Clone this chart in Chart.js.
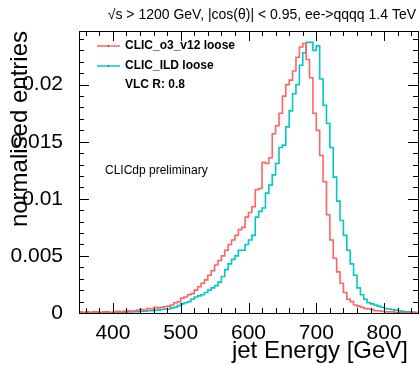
<!DOCTYPE html>
<html>
<head>
<meta charset="utf-8">
<script src="https://cdn.jsdelivr.net/npm/chart.js@4.4.1/dist/chart.umd.min.js"></script>
<style>
  html, body { margin: 0; padding: 0; background: #fff; }
</style>
</head>
<body>
<canvas id="chart-jetE" width="420" height="366"></canvas>
<script>
// ── DATA ──────────────────────────────────────────────────────────────────
// 5 GeV bins from 350 to 850 GeV, normalised entries per bin
const BIN_LOW   = 350;
const BIN_WIDTH = 5;

const o3Entries = [
  0.0001, 0.00005, 0.0001, 0.00005, 0.0001, 0.0001, 0.00005, 0.0001, 0.0001, 0.00005,
  0.0001, 0.00015, 0.0001, 0.00015, 0.0002, 0.00015, 0.0002, 0.00025, 0.0003, 0.00025,
  0.0004, 0.00035, 0.0005, 0.00045, 0.0005, 0.00055, 0.0006, 0.0007, 0.0009, 0.0010,
  0.0013, 0.0014, 0.0016, 0.0017, 0.0020, 0.0023, 0.0026, 0.0029, 0.0033, 0.0037,
  0.0042, 0.0046, 0.0050, 0.0055, 0.0060, 0.0064, 0.0068, 0.0073, 0.0075, 0.0084,
  0.0088, 0.0093, 0.0108, 0.0109, 0.0132, 0.0131, 0.0136, 0.0157, 0.0164, 0.0175,
  0.0190, 0.0200, 0.0204, 0.0212, 0.0224, 0.0233, 0.0236, 0.0222, 0.0206, 0.0175,
  0.0160, 0.0138, 0.0115, 0.0086, 0.0064, 0.0048, 0.0036, 0.0026, 0.0018, 0.0012,
  0.0010, 0.0007, 0.0006, 0.0005, 0.0004, 0.00035, 0.0003, 0.0002, 0.0002, 0.00015,
  0.0001, 0.0001, 0.0001, 0.00005, 0.00005, 0.00005, 0.00005, 0.00005, 0.00003, 0.00003
];

const ildEntries = [
  0.00003, 0, 0.00003, 0.00003, 0, 0.00003, 0.00005, 0.00003, 0.00005, 0.00005,
  0.00005, 0.00005, 0.00008, 0.00008, 0.0001, 0.0001, 0.00012, 0.00012, 0.00015, 0.00015,
  0.0002, 0.0002, 0.00025, 0.00025, 0.0003, 0.00035, 0.00035, 0.00045, 0.0005, 0.00065,
  0.0008, 0.0009, 0.0010, 0.0012, 0.0014, 0.0015, 0.0016, 0.0018, 0.0020, 0.0022,
  0.0024, 0.0027, 0.0032, 0.0038, 0.0043, 0.0047, 0.0050, 0.0055, 0.0055, 0.0060,
  0.0064, 0.0068, 0.0084, 0.0089, 0.0092, 0.0105, 0.0112, 0.0121, 0.0131, 0.0145,
  0.0147, 0.0163, 0.0177, 0.0192, 0.0200, 0.0217, 0.0228, 0.0237, 0.0237, 0.0230,
  0.0234, 0.0205, 0.0182, 0.0166, 0.0145, 0.0119, 0.0098, 0.0081, 0.0068, 0.0055,
  0.0043, 0.0033, 0.0022, 0.0016, 0.0012, 0.0009, 0.0008, 0.0007, 0.0006, 0.0005,
  0.0004, 0.00035, 0.0003, 0.00025, 0.0002, 0.00015, 0.0001, 0.0001, 0.00008, 0.00005
];

const X_TICKS = [400, 500, 600, 700, 800];
const Y_TICKS = [0, 0.005, 0.01, 0.015, 0.02];
const Y_LABELS = ['0', '0.005', '0.01', '0.015', '0.02'];

const SERIES = [
  { name: 'CLIC_o3_v12 loose', values: o3Entries,  color: '#FF6464' },
  { name: 'CLIC_ILD loose',    values: ildEntries, color: '#00C8C8' },
];

const TITLE   = '\u221As > 1200 GeV, |cos(\u03B8)| < 0.95, ee->qqqq 1.4 TeV';
const X_TITLE = 'jet Energy [GeV]';
const Y_TITLE = 'normalised entries';
const FONT    = "'Liberation Sans', Arial, sans-serif";

// histogram -> step points at bin low edges (+ closing edge)
function toSteps(values) {
  const pts = values.map((v, i) => ({ x: BIN_LOW + i * BIN_WIDTH, y: v }));
  pts.push({ x: BIN_LOW + values.length * BIN_WIDTH, y: values[values.length - 1] });
  return pts;
}

// ── ROOT-STYLE FRAME, TICKS AND TEXT ─────────────────────────────────────
const rootFrame = {
  id: 'rootFrame',
  afterDatasetsDraw(chart) {
    const { ctx, chartArea: a, scales: { x, y } } = chart;
    ctx.save();
    ctx.strokeStyle = '#000';
    ctx.lineWidth = 1;
    ctx.strokeRect(Math.round(a.left) + 0.5, Math.round(a.top) + 0.5,
                   Math.round(a.right - a.left), Math.round(a.bottom - a.top));
    ctx.beginPath();
    for (let v = x.min + 10; v < x.max; v += 20) {
      const px = Math.round(x.getPixelForValue(v)) + 0.5;
      const len = (v % 100 === 0) ? 10 : 5;
      ctx.moveTo(px, a.bottom); ctx.lineTo(px, a.bottom - len);
      ctx.moveTo(px, a.top);    ctx.lineTo(px, a.top + len);
    }
    for (let k = 0; k * 0.001 < y.max; k++) {
      const py = Math.round(y.getPixelForValue(k * 0.001)) + 0.5;
      const len = (k % 5 === 0) ? 10 : 5;
      ctx.moveTo(a.left, py);  ctx.lineTo(a.left + len, py);
      ctx.moveTo(a.right, py); ctx.lineTo(a.right - len, py);
    }
    ctx.stroke();
    ctx.restore();
  },
  afterDraw(chart) {
    const { ctx } = chart;
    ctx.save();
    ctx.fillStyle = '#000';

    // title
    ctx.font = '14px ' + FONT;
    ctx.textAlign = 'right';
    ctx.textBaseline = 'alphabetic';
    ctx.fillText(TITLE, 416, 19);

    // axis titles
    ctx.font = '24px ' + FONT;
    ctx.fillText(X_TITLE, 408, 358);
    ctx.save();
    ctx.translate(27, 31);
    ctx.rotate(-Math.PI / 2);
    ctx.textAlign = 'right';
    ctx.fillText(Y_TITLE, 0, 0);
    ctx.restore();

    // legend
    ctx.textAlign = 'left';
    ctx.textBaseline = 'middle';
    ctx.font = 'bold 12px ' + FONT;
    SERIES.forEach((s, i) => {
      const ly = 46 + i * 20;
      ctx.strokeStyle = s.color;
      ctx.lineWidth = 1.5;
      ctx.beginPath(); ctx.moveTo(97, ly); ctx.lineTo(120, ly); ctx.stroke();
      ctx.fillStyle = '#000';
      ctx.fillRect(108, ly - 0.5, 1, 1);
      ctx.fillText(s.name, 125, ly);
    });
    ctx.fillText('VLC R: 0.8', 125, 85);

    ctx.font = '12px ' + FONT;
    ctx.fillText('CLICdp preliminary', 105, 171);
    ctx.restore();
  }
};

// ── CHART ─────────────────────────────────────────────────────────────────
new Chart(document.getElementById('chart-jetE'), {
  type: 'line',
  data: {
    datasets: SERIES.map(s => ({
      label: s.name,
      data: toSteps(s.values),
      borderColor: s.color,
      borderWidth: 1.6,
      stepped: 'before',
      pointRadius: 0,
      fill: false,
    }))
  },
  options: {
    responsive: false,
    animation: false,
    devicePixelRatio: 1,
    layout: { padding: { top: 31, right: 2, bottom: 0, left: 0 } },
    plugins: { legend: { display: false }, tooltip: { enabled: false } },
    scales: {
      x: {
        type: 'linear', min: 350, max: 850,
        grid: { display: false }, border: { display: false },
        afterFit: s => { s.height = 53; },
        afterBuildTicks: s => { s.ticks = X_TICKS.map(v => ({ value: v })); },
        ticks: { color: '#000', padding: 0, maxRotation: 0, font: { family: FONT, size: 21 } }
      },
      y: {
        type: 'linear', min: 0, max: 0.0247,
        grid: { display: false }, border: { display: false },
        afterFit: s => { s.width = 79; },
        afterBuildTicks: s => { s.ticks = Y_TICKS.map(v => ({ value: v })); },
        ticks: {
          color: '#000', padding: 8, font: { family: FONT, size: 21 },
          callback: (v, i) => Y_LABELS[i]
        }
      }
    }
  },
  plugins: [rootFrame]
});
</script>
</body>
</html>
